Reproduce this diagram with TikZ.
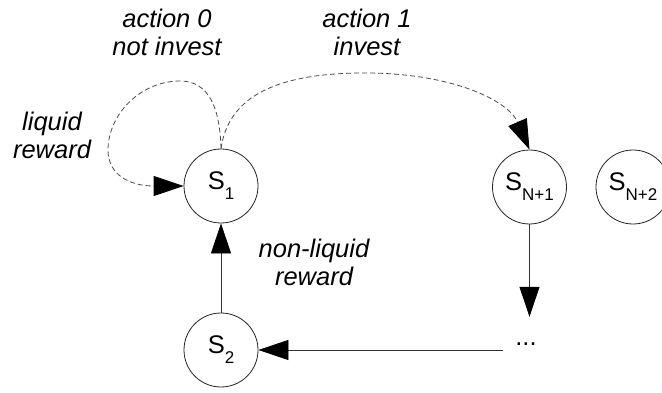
\documentclass[tikz,border=0pt]{standalone}
\usepackage{fontspec}
\setmainfont{Liberation Sans}
\usetikzlibrary{arrows.meta}
\begin{document}
\begin{tikzpicture}[x=1pt,y=-1pt,
  state/.style={circle,draw=black!85,line width=0.8pt,minimum size=74pt,inner sep=0pt,font=\fontsize{25.5}{28}\selectfont},
  lab/.style={align=center,font=\fontsize{25.5}{28}\selectfont\itshape,inner sep=0pt},
  conn/.style={draw=black!80,line width=0.8pt,-{Triangle[length=30pt,width=20pt,color=black]}},
  dconn/.style={conn,draw=black!70,dash pattern=on 5pt off 3pt}]
\clip (0,0) rectangle (662,393);
\fill[white] (0,0) rectangle (662,393);
\node[state] (S1) at (221,186) {S\raisebox{-10pt}{\fontsize{17}{17}\selectfont 1}};
\node[state] (S2) at (221,350) {S\raisebox{-10pt}{\fontsize{17}{17}\selectfont 2}};
\node[state] (SN1) at (529.5,187) {S\raisebox{-10pt}{\fontsize{17}{17}\selectfont N+1}};
\node[state] (SN2) at (633,187) {S\raisebox{-10pt}{\fontsize{17}{17}\selectfont N+2}};
\node[inner sep=0pt,minimum width=46pt,minimum height=54pt,font=\fontsize{25.5}{28}\selectfont] (dots) at (526,344) {...};
\node[lab] (l0) at (167,32) {action 0\\not invest};
\node[lab] (l1) at (367,32) {action 1\\invest};
\node[lab] (lq) at (52,135) {liquid\\reward};
\node[lab] (ln) at (314,262) {non-liquid\\reward};
\draw[dconn] (S1.north) .. controls (220,110) and (210,81) .. (180,81)
  .. controls (140,81) and (108,115) .. (108,150)
  .. controls (108,175) and (130,186) .. (S1.west);
\draw[dconn] (S1.north) .. controls (228,100) and (270,74) .. (360,73)
  .. controls (450,72) and (508,100) .. (SN1.north);
\draw[conn] (S2.north) -- (S1.south);
\draw[conn] (SN1.south) -- (SN1.south |- dots.north);
\draw[conn] (dots.west |- S2.east) -- (S2.east);
\end{tikzpicture}
\end{document}
